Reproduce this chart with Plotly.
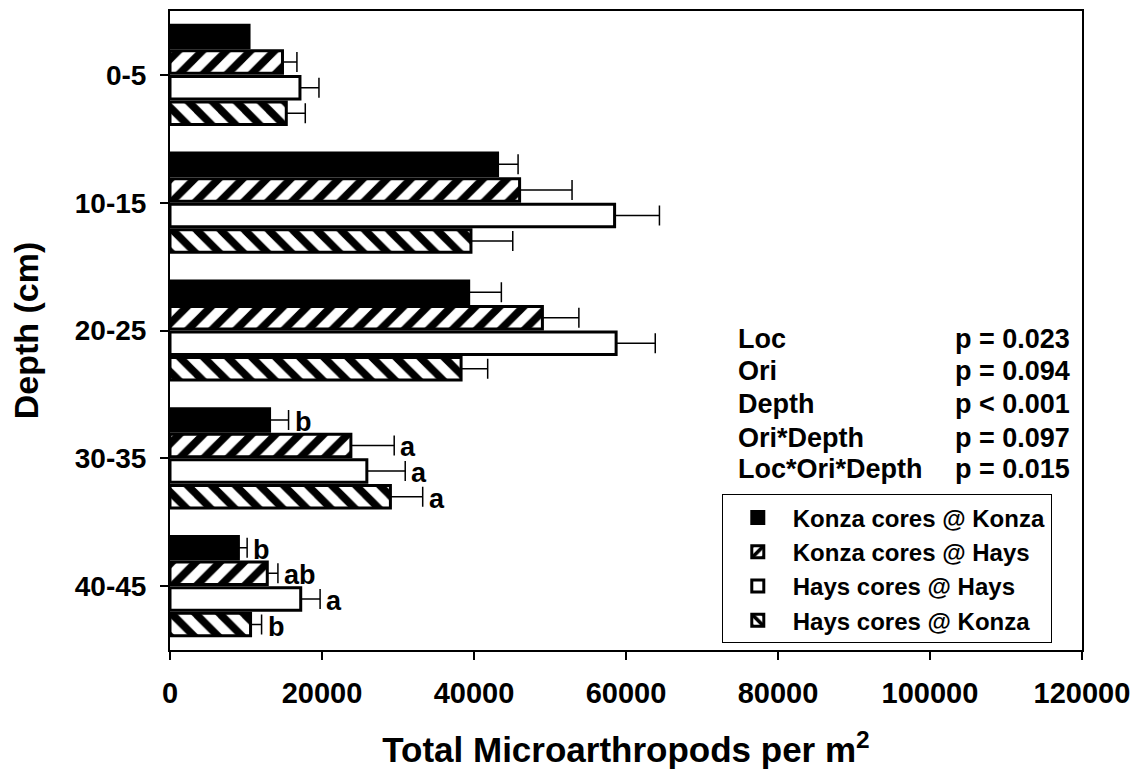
import plotly.graph_objects as go

# Depth classes (cm) and treatments
depths = ["0-5", "10-15", "20-25", "30-35", "40-45"]
series_names = [
    "Konza cores @ Konza",
    "Konza cores @ Hays",
    "Hays cores @ Hays",
    "Hays cores @ Konza",
]

# Mean total microarthropods per m^2 for each treatment, by depth
konza_at_konza = [10400, 43100, 39300, 13100, 9000]
konza_at_hays = [14800, 46000, 49000, 23800, 12800]
hays_at_hays = [17100, 58500, 58700, 25900, 17200]
hays_at_konza = [15300, 39600, 38300, 29000, 10600]

# Standard errors
se_konza_at_konza = [0, 2700, 4300, 2500, 1150]
se_konza_at_hays = [1900, 6900, 4800, 5700, 1400]
se_hays_at_hays = [2500, 5900, 5150, 5050, 2550]
se_hays_at_konza = [2500, 5500, 3500, 4250, 1450]

# Mean-separation letters for the two deepest classes
letters_30_35 = ["b", "a", "a", "a"]
letters_40_45 = ["b", "ab", "a", "b"]

# ANOVA results
effects = ["Loc", "Ori", "Depth", "Ori*Depth", "Loc*Ori*Depth"]
p_values = ["p = 0.023", "p = 0.094", "p < 0.001", "p = 0.097", "p = 0.015"]

means = [konza_at_konza, konza_at_hays, hays_at_hays, hays_at_konza]
errors = [se_konza_at_konza, se_konza_at_hays, se_hays_at_hays, se_hays_at_konza]

FONT = "Arial, 'Liberation Sans', sans-serif"
fills = ["black", "white", "white", "white"]
shapes = ["", "/", "", "\\"]

fig = go.Figure()
for name, vals, errs, fill, shp in zip(series_names, means, errors, fills, shapes):
    fig.add_trace(go.Bar(
        y=depths,
        x=vals,
        name=name,
        orientation="h",
        marker=dict(
            color=fill,
            line=dict(color="black", width=3),
            pattern=dict(shape=shp, fgcolor="black", bgcolor=fill,
                         fgopacity=1, size=17, solidity=0.45),
        ),
        error_x=dict(type="data", array=errs, symmetric=False,
                     arrayminus=[0] * len(errs),
                     color="black", thickness=1.5, width=10),
    ))

# Letters placed just past each error bar
pitch = 25.7  # px between neighbouring bars in a group
annotations = []
for cat, letters in (("30-35", letters_30_35), ("40-45", letters_40_45)):
    idx = depths.index(cat)
    for i, letter in enumerate(letters):
        annotations.append(dict(
            x=means[i][idx] + errors[i][idx], y=cat, xref="x", yref="y",
            text=letter, showarrow=False, xanchor="left", yanchor="middle",
            xshift=4, yshift=(1.5 - i) * pitch - 2,
            font=dict(family=FONT, size=27, color="black", weight="bold"),
        ))

# ANOVA table
row_y = [338, 370, 403, 437, 468]
for eff, pv, py in zip(effects, p_values, row_y):
    yp = (650 - py) / 641
    annotations.append(dict(
        x=(737 - 170) / 914, y=yp, xref="paper", yref="paper", text=eff,
        showarrow=False, xanchor="left", yanchor="middle",
        font=dict(family=FONT, size=27, color="black", weight="bold")))
    annotations.append(dict(
        x=(1074 - 170) / 914, y=yp, xref="paper", yref="paper", text=pv,
        showarrow=False, xanchor="right", yanchor="middle",
        font=dict(family=FONT, size=27, color="black", weight="bold")))

fig.update_layout(
    width=1139, height=778,
    margin=dict(l=170, r=55, t=9, b=128),
    paper_bgcolor="white", plot_bgcolor="white",
    barmode="group", bargap=0.2, bargroupgap=0.12,
    showlegend=True,
    legend=dict(
        x=(723 - 170) / 914, y=(650 - 494) / 641, xanchor="left", yanchor="top",
        bordercolor="black", borderwidth=1, bgcolor="white",
        traceorder="normal", itemwidth=60,
        font=dict(family=FONT, size=24, color="black", weight="bold"),
    ),
    annotations=annotations,
    xaxis=dict(
        range=[0, 120000], dtick=20000, tickformat="d",
        showline=True, mirror=True, linecolor="black", linewidth=2,
        ticks="outside", ticklen=8, tickwidth=1.5, tickcolor="black",
        ticklabelstandoff=8,
        showgrid=False, zeroline=False,
        tickfont=dict(family=FONT, size=29, color="black", weight="bold"),
        title=dict(text="Total Microarthropods per m<sup>2</sup>", standoff=30,
                   font=dict(family=FONT, size=35, color="black", weight="bold")),
    ),
    yaxis=dict(
        autorange="reversed",
        showline=True, mirror=True, linecolor="black", linewidth=2,
        ticks="outside", ticklen=8, tickwidth=1.5, tickcolor="black",
        ticklabelstandoff=8,
        showgrid=False, zeroline=False,
        tickfont=dict(family=FONT, size=28, color="black", weight="bold"),
        title=dict(text="Depth (cm)", standoff=26,
                   font=dict(family=FONT, size=34, color="black", weight="bold")),
    ),
)

fig.write_html("out.html")
